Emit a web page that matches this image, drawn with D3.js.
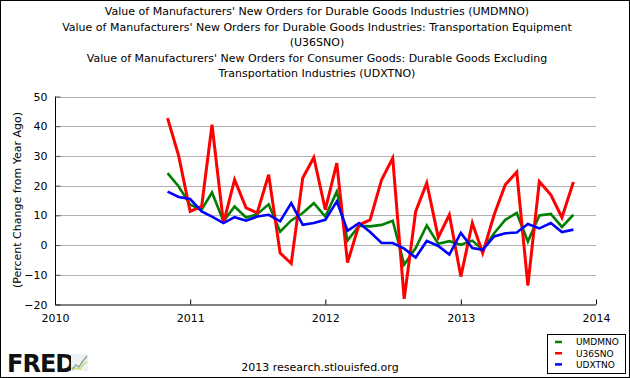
<!DOCTYPE html>
<html><head><meta charset="utf-8">
<script src="https://cdn.jsdelivr.net/npm/d3@7"></script>
<style>
html,body{margin:0;padding:0;background:#fff;}
svg{display:block;}
text{font-family:"DejaVu Sans",Verdana,sans-serif;}
</style></head>
<body>
<svg id="chart" width="630" height="378"></svg>
<script>
// ---- data ----
const startMonth = "2010-11"; // first observation
const months = d3.timeMonths(new Date(2010, 10, 1), new Date(2013, 11, 1)); // Nov 2010 .. Nov 2013
const UMDMNO = [24.2, 19.7, 13.6, 11.9, 17.7, 8.0, 13.0, 9.3, 10.4, 13.7, 4.5, 8.3, 10.8, 14.1, 9.6, 18.0, 1.5, 6.5, 6.3, 6.8, 8.2, -6.6, -1.0, 6.6, 0.4, 1.3, 0.1, 1.5, -1.6, 4.0, 8.5, 10.8, 1.2, 10.0, 10.5, 6.1, 10.2];
const U36SNO = [42.7, 30.0, 11.3, 13.0, 40.5, 7.4, 22.0, 12.5, 10.8, 23.7, -2.7, -6.2, 22.6, 29.5, 11.9, 27.6, -5.9, 6.8, 8.5, 22.0, 29.3, -18.1, 11.3, 20.9, 2.6, 10.2, -10.6, 7.4, -2.7, 10.2, 20.3, 24.6, -13.6, 21.4, 16.9, 9.3, 21.2];
const UDXTNO = [18.0, 16.2, 15.5, 11.3, 9.6, 7.4, 9.4, 8.2, 9.6, 10.2, 8.0, 14.1, 6.8, 7.4, 8.5, 14.7, 4.8, 7.4, 4.4, 0.7, 0.7, -1.2, -4.2, 1.4, -0.3, -3.2, 4.1, -1.0, -1.6, 2.9, 4.0, 4.2, 7.1, 5.6, 7.4, 4.4, 5.2];
const yTicks = [-20, -10, 0, 10, 20, 30, 40, 50];
const xTickYears = [2010, 2011, 2012, 2013, 2014];
const seriesNames = ["UMDMNO", "U36SNO", "UDXTNO"];
const seriesColors = ["#008000", "#ff0000", "#0000ff"];
const titleLines = [
  "Value of Manufacturers' New Orders for Durable Goods Industries (UMDMNO)",
  "Value of Manufacturers' New Orders for Durable Goods Industries: Transportation Equipment",
  "(U36SNO)",
  "Value of Manufacturers' New Orders for Consumer Goods: Durable Goods Excluding",
  "Transportation Industries (UDXTNO)"
];
const yLabel = "(Percent Change from Year Ago)";
const footer = "2013 research.stlouisfed.org";

// ---- layout ----
const svg = d3.select("#chart");
const L = 55, R = 596, T = 96.5, B = 304.5;
const x = d3.scaleTime().domain([new Date(2010,0,1), new Date(2014,0,1)]).range([L, R]);
const y = d3.scaleLinear().domain([-20, 50]).range([B, T]);

// outer border
svg.append("rect").attr("x",0.5).attr("y",0.5).attr("width",629).attr("height",377)
  .attr("fill","#fff").attr("stroke","#000").attr("stroke-width",1);

// title
svg.append("g").selectAll("text").data(titleLines).join("text")
  .attr("x", 317).attr("y", (d,i)=> 15 + i*15.5)
  .attr("text-anchor","middle").attr("font-size","11px").attr("fill","#000")
  .text(d=>d);

// gridlines
svg.append("g").selectAll("line").data(yTicks.filter(v=>v>-20)).join("line")
  .attr("x1", L).attr("x2", R).attr("y1", d=>Math.round(y(d))+0.5).attr("y2", d=>Math.round(y(d))+0.5)
  .attr("stroke","#b0b0b0").attr("stroke-width",1);

// y axis
const yAxis = d3.axisLeft(y).tickValues(yTicks).tickSize(-5).tickPadding(8).tickFormat(d3.format("d"));
const gy = svg.append("g").attr("transform",`translate(${L+0.5},0)`).call(yAxis);
gy.select(".domain").attr("stroke","#000").attr("d", `M0,${y(50)}V${B}`);
gy.selectAll(".tick line").attr("stroke","#555");
gy.selectAll(".tick text").attr("font-size","11px").attr("fill","#000").attr("font-family","DejaVu Sans");

// x axis
const xAxis = d3.axisBottom(x).tickValues(xTickYears.map(yr=>new Date(yr,0,1))).tickSize(-5).tickPadding(10)
  .tickFormat(d3.timeFormat("%Y"));
const gx = svg.append("g").attr("transform",`translate(0,${B})`).call(xAxis);
gx.select(".domain").attr("stroke","#000").attr("d", `M${L},0.5H${R}`);
gx.selectAll(".tick line").attr("stroke","#000");
gx.selectAll(".tick text").attr("font-size","11px").attr("fill","#000").attr("font-family","DejaVu Sans");

// y label
svg.append("text").attr("transform","translate(21,200) rotate(-90)")
  .attr("text-anchor","middle").attr("font-size","11px").attr("fill","#000").text(yLabel);

// lines
const allSeries = [UMDMNO, U36SNO, UDXTNO];
const line = d3.line().x((d,i)=>x(months[i])).y(d=>y(d));
svg.append("g").selectAll("path").data(allSeries).join("path")
  .attr("d", d=>line(d)).attr("fill","none")
  .attr("stroke",(d,i)=>seriesColors[i])
  .attr("stroke-width",(d,i)=> i===1 ? 3 : 2.6)
  .attr("stroke-linejoin","miter");

// legend
const lg = svg.append("g");
lg.append("rect").attr("x",547.5).attr("y",334.5).attr("width",78).attr("height",39)
  .attr("fill","#fff").attr("stroke","#000").attr("stroke-width",1);
seriesNames.forEach((n,i)=>{
  const yy = 342 + i*11.2;
  lg.append("line").attr("x1",555).attr("x2",562).attr("y1",yy).attr("y2",yy)
    .attr("stroke",seriesColors[i]).attr("stroke-width",2.5);
  lg.append("text").attr("x",576).attr("y",yy+3.3).attr("font-size","9px").attr("fill","#000").text(n);
});

// footer
svg.append("text").attr("x",320).attr("y",371).attr("text-anchor","middle")
  .attr("font-size","11px").attr("fill","#000").text(footer);

// FRED logo
svg.append("text").attr("x",7).attr("y",372).attr("font-family","Liberation Sans, Arial, sans-serif")
  .attr("font-weight","bold").attr("font-size","24px").attr("letter-spacing","-1").attr("fill","#111").text("FRED");
const ic = svg.append("g").attr("transform","translate(71,354)");
ic.append("rect").attr("x",0).attr("y",0).attr("width",17).attr("height",17).attr("fill","#eef2f4");
ic.append("polyline").attr("points","1,15 5,11 8,13 12,7 16,2").attr("fill","none").attr("stroke","#8aa89a").attr("stroke-width",1.5);
ic.append("polyline").attr("points","1,16 5,14 9,15 13,10 16,8").attr("fill","none").attr("stroke","#c5d65a").attr("stroke-width",1.2);
</script>
</body></html>
